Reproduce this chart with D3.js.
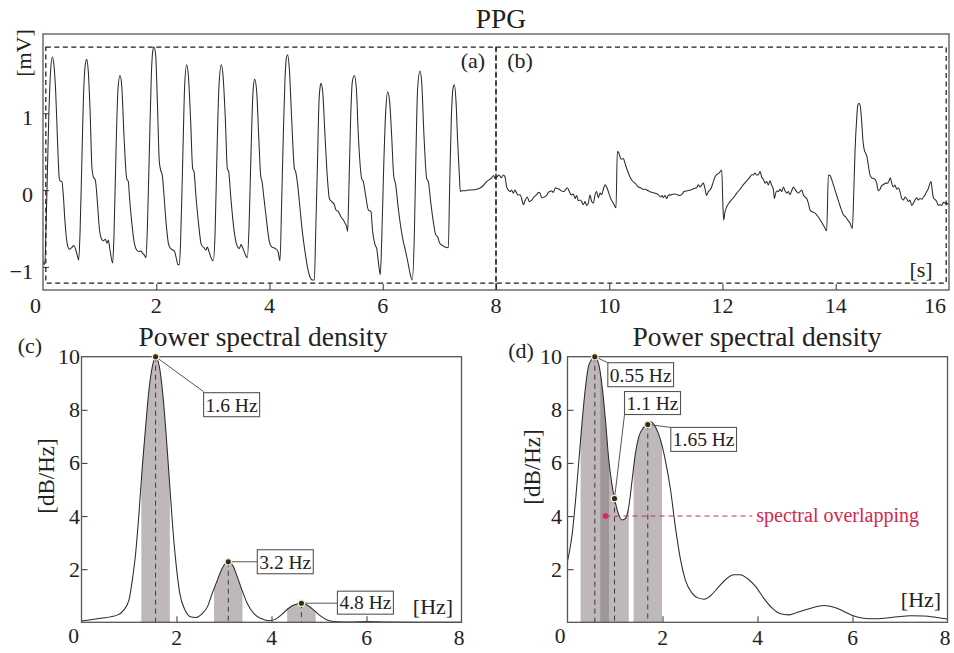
<!DOCTYPE html>
<html><head><meta charset="utf-8">
<script src="https://cdn.jsdelivr.net/npm/d3@7"></script>
<style>
body{margin:0;background:#fff;}
svg text{font-family:"Liberation Serif","DejaVu Serif",serif;fill:#222;}
</style></head><body>
<svg id="chart" width="954" height="653"></svg>
<script>
// ---------------- DATA ----------------
// PPG signal, first half (clean pulsatile), [time s, mV]
const ppgFirstHalf = [
[0.0,-0.93],[0.03,-0.97],[0.06,-0.3],[0.1,0.9],[0.13,1.5],[0.165,1.73],[0.194,1.62],[0.224,1.28],[0.253,0.71],[0.283,0.19],[0.30,0.12],[0.335,0.11],[0.359,-0.07],[0.388,-0.41],[0.43,-0.71],[0.465,-0.77],[0.506,-0.75],[0.547,-0.72],[0.571,-0.76],[0.595,-0.82],[0.63,-0.91],
[0.653,-0.58],[0.683,0.28],[0.712,1.15],[0.742,1.6],[0.771,1.70],
[0.80,1.54],[0.83,1.06],[0.865,0.28],[0.889,0.17],[0.924,0.13],[0.96,-0.15],[0.995,-0.50],[1.03,-0.63],[1.066,-0.66],[1.10,-0.64],[1.13,-0.69],[1.154,-0.65],[1.183,-0.78],[1.23,-0.95],
[1.254,-0.58],[1.289,0.50],[1.325,1.32],[1.36,1.49],
[1.39,1.36],[1.43,0.71],[1.478,0.15],[1.507,0.11],[1.525,-0.07],[1.566,-0.41],[1.613,-0.69],[1.654,-0.78],[1.695,-0.80],[1.731,-0.79],[1.754,-0.82],[1.784,-0.84],[1.819,-0.88],
[1.843,-0.50],[1.878,0.50],[1.913,1.49],[1.937,1.80],[1.96,1.86],
[1.99,1.75],[2.02,1.15],[2.054,0.37],[2.078,0.26],[2.107,0.19],[2.137,-0.07],[2.172,-0.41],[2.219,-0.71],[2.255,-0.76],[2.29,-0.78],[2.32,-0.79],[2.349,-0.87],[2.384,-0.97],[2.408,-0.97],
[2.43,-0.67],[2.467,0.37],[2.502,1.36],[2.537,1.63],
[2.567,1.49],[2.608,0.89],[2.643,0.28],[2.667,0.24],[2.70,-0.07],[2.749,-0.45],[2.796,-0.71],[2.843,-0.75],[2.878,-0.78],[2.902,-0.74],[2.932,-0.80],[2.973,-0.89],[3.008,-0.92],
[3.038,-0.58],[3.073,0.50],[3.108,1.36],[3.15,1.63],
[3.179,1.49],[3.22,0.93],[3.255,0.28],[3.279,0.24],[3.314,-0.07],[3.362,-0.45],[3.42,-0.71],[3.467,-0.76],[3.497,-0.71],[3.526,-0.75],[3.562,-0.82],[3.609,-0.88],
[3.638,-0.50],[3.674,0.50],[3.709,1.28],[3.738,1.44],
[3.774,1.28],[3.809,0.71],[3.844,0.19],[3.868,0.11],[3.903,-0.11],[3.95,-0.41],[3.997,-0.67],[4.04,-0.74],[4.10,-0.76],[4.15,-0.80],[4.185,-0.92],
[4.215,-0.15],[4.244,0.71],[4.274,1.45],[4.297,1.71],[4.321,1.76],
[4.35,1.58],[4.391,0.93],[4.44,0.28],[4.462,0.24],[4.497,0.07],[4.539,-0.24],[4.58,-0.54],[4.627,-0.80],[4.674,-1.02],[4.715,-1.13],[4.756,-1.17],[4.792,-1.17],
[4.815,-0.58],[4.845,0.28],[4.874,1.15],[4.898,1.36],[4.909,1.39],
[4.939,1.28],[4.98,0.71],[5.027,0.11],[5.057,-0.11],[5.098,-0.15],[5.145,-0.19],[5.174,-0.26],[5.216,-0.28],[5.263,-0.35],[5.304,-0.39],[5.333,-0.43],[5.363,-0.48],[5.38,-0.54],
[5.404,0.07],[5.433,0.93],[5.463,1.41],[5.498,1.49],
[5.534,1.32],[5.569,0.71],[5.628,0.15],[5.657,0.11],[5.698,-0.07],[5.746,-0.26],[5.793,-0.28],[5.816,-0.50],[5.863,-0.71],[5.893,-0.76],[5.922,-0.93],[5.957,-1.10],
[5.981,-0.67],[6.016,0.28],[6.052,1.02],[6.087,1.28],
[6.122,1.15],[6.157,0.71],[6.193,0.19],[6.228,0.07],[6.275,-0.24],[6.322,-0.50],[6.363,-0.67],[6.405,-0.80],[6.452,-0.97],[6.487,-1.10],[6.522,-1.17],
[6.558,-0.58],[6.587,0.50],[6.616,1.32],[6.658,1.55],
[6.687,1.41],[6.728,0.71],[6.776,0.15],[6.805,0.11],[6.846,-0.15],[6.893,-0.41],[6.934,-0.58],[6.97,-0.61],[7.005,-0.69],[7.052,-0.72],[7.099,-0.74],[7.158,-0.75],
[7.182,0.07],[7.211,0.93],[7.241,1.32],[7.264,1.37],
[7.294,1.15],[7.323,0.63],[7.353,0.19],[7.37,-0.02],[7.394,-0.01],[7.452,-0.01],[7.51,0.0],[7.57,0.0],[7.659,0.01],[7.747,0.04],[7.835,0.11],[7.923,0.16],[7.959,0.19],[7.982,0.15],[8.012,0.17]
];
// PPG signal, second half (motion artefacts), [time s, mV]
const ppgSecondHalf = [
[8.059,0.195],[8.088,0.16],[8.13,0.195],[8.159,0.17],[8.188,0.04],[8.218,0.0],[8.247,-0.02],[8.277,0.0],[8.306,-0.04],[8.335,0.0],[8.365,-0.04],[8.394,-0.065],[8.424,-0.06],[8.453,-0.11],[8.483,-0.19],[8.512,-0.14],[8.553,-0.09],[8.589,-0.15],[8.63,-0.13],[8.671,-0.09],[8.718,-0.06],[8.748,-0.03],[8.777,-0.04],[8.806,-0.10],[8.848,-0.09],[8.895,-0.07],[8.924,-0.03],[8.954,-0.02],[8.983,-0.01],[9.013,-0.03],[9.048,0.03],[9.083,0.02],[9.118,0.01],[9.154,-0.01],[9.189,-0.02],[9.224,0.0],[9.26,0.03],[9.295,-0.02],[9.33,-0.065],[9.366,-0.05],[9.395,-0.11],[9.425,-0.07],[9.454,-0.14],[9.483,-0.13],[9.513,-0.15],[9.542,-0.19],[9.572,-0.15],[9.601,-0.20],[9.631,-0.17],[9.66,-0.065],[9.69,-0.15],[9.719,-0.17],[9.748,-0.065],[9.778,-0.02],[9.807,-0.10],[9.837,-0.04],[9.866,-0.06],[9.896,0.01],[9.925,0.07],[9.954,0.04],[9.984,-0.02],[10.025,-0.11],[10.072,-0.17],[10.119,-0.23],
[10.143,0.50],[10.166,0.49],[10.19,0.43],[10.219,0.40],[10.249,0.41],[10.278,0.35],[10.308,0.28],[10.355,0.19],[10.396,0.13],[10.455,0.09],[10.514,0.04],[10.555,0.03],[10.59,0.01],[10.632,0.01],[10.69,-0.01],[10.749,-0.03],[10.808,-0.04],[10.867,-0.06],[10.908,-0.09],[10.932,-0.07],[10.955,-0.10],[10.985,-0.07],[11.014,-0.11],[11.043,-0.07],[11.102,-0.06],[11.161,-0.05],[11.203,-0.06],[11.238,-0.07],[11.279,-0.06],[11.32,-0.02],[11.379,-0.01],[11.438,0.0],[11.497,0.02],[11.544,0.03],[11.573,0.07],[11.603,0.04],[11.632,0.065],[11.662,0.09],[11.691,0.02],[11.72,-0.07],[11.75,-0.02],[11.779,0.0],[11.809,0.04],[11.838,0.11],[11.868,0.17],[11.897,0.2],[11.939,0.22],[11.986,0.26],
[12.009,-0.24],[12.021,-0.39],[12.045,-0.28],[12.074,-0.22],[12.133,-0.15],[12.192,-0.10],[12.251,-0.04],[12.31,0.01],[12.368,0.07],[12.427,0.12],[12.486,0.17],[12.516,0.20],[12.545,0.195],[12.574,0.22],[12.604,0.195],[12.633,0.20],[12.663,0.24],[12.692,0.17],[12.722,0.14],[12.751,0.09],[12.78,0.11],[12.81,0.065],[12.839,0.12],[12.869,0.06],[12.898,0.01],[12.916,-0.11],[12.939,-0.04],[12.963,-0.01],[12.986,-0.02],[13.016,0.01],[13.045,-0.02],[13.075,0.04],[13.104,-0.01],[13.134,-0.04],[13.163,-0.02],[13.192,-0.06],[13.222,-0.01],[13.251,0.04],[13.281,0.01],[13.31,-0.02],[13.34,-0.04],[13.369,-0.02],[13.399,0.0],[13.428,-0.065],[13.457,-0.09],[13.487,-0.11],[13.516,-0.17],[13.546,-0.26],[13.575,-0.28],[13.634,-0.30],[13.693,-0.35],[13.752,-0.42],[13.799,-0.48],[13.84,-0.53],
[13.87,0.195],[13.899,0.19],[13.94,0.11],[13.987,0.0],[14.034,-0.11],[14.082,-0.22],[14.134,-0.32],[14.176,-0.35],[14.211,-0.39],[14.252,-0.43],[14.293,-0.50],
[14.317,-0.065],[14.34,0.50],[14.37,0.93],[14.388,1.10],[14.411,1.13],[14.435,1.08],[14.458,0.89],[14.482,0.63],[14.505,0.52],[14.529,0.48],[14.552,0.43],[14.576,0.32],[14.606,0.195],[14.635,0.16],[14.664,0.15],[14.694,0.14],[14.723,0.09],[14.752,-0.01],[14.782,0.01],[14.812,0.06],[14.841,0.07],[14.882,0.09],[14.917,0.09],[14.941,0.12],[14.964,0.16],[14.988,0.09],[15.017,0.04],[15.047,0.065],[15.076,0.01],[15.106,0.03],[15.135,-0.02],[15.165,-0.11],[15.194,-0.13],[15.224,-0.09],[15.253,-0.11],[15.282,-0.15],[15.312,-0.13],[15.341,-0.20],[15.371,-0.17],[15.4,-0.13],[15.43,-0.10],[15.459,-0.13],[15.489,-0.11],[15.518,-0.12],[15.548,-0.09],[15.577,-0.065],[15.606,-0.02],[15.636,0.02],[15.665,0.09],[15.683,0.11],[15.706,-0.02],[15.73,-0.11],[15.753,-0.12],[15.783,-0.15],[15.812,-0.20],[15.842,-0.19],[15.871,-0.20],[15.9,-0.16],[15.93,-0.17],[15.959,-0.17],[15.989,-0.19]
];
const ppgTitle = "PPG";
const ppgXTicks = [0, 2, 4, 6, 8, 10, 12, 14, 16];
const ppgYTicks = [-1, 0, 1];
const ppgWindows = [[0.05, 8], [8, 15.95]];
const ppgWindowRange = [-1.21, 1.86];
const ppgWindowLabels = ["(a)", "(b)"];

// PSD of window (a): [Hz, dB/Hz]
const psdA = [
[0,0.05],[0.4,0.15],[0.75,0.27],[0.89,0.46],[1.0,0.84],[1.07,1.59],[1.14,2.6],[1.21,4.1],[1.28,5.86],[1.35,7.36],[1.42,8.74],[1.49,9.62],[1.56,10.0],[1.64,9.62],[1.71,8.62],[1.78,7.11],[1.85,5.35],[1.92,3.59],[1.99,2.21],[2.07,1.08],[2.18,0.46],[2.29,0.21],[2.41,0.18],[2.54,0.33],[2.65,0.58],[2.75,1.08],[2.86,1.59],[2.96,2.03],[3.09,2.28],[3.19,2.12],[3.28,1.71],[3.38,1.21],[3.49,0.71],[3.63,0.33],[3.77,0.15],[3.94,0.06],[4.08,0.11],[4.22,0.3],[4.36,0.53],[4.5,0.67],[4.63,0.72],[4.75,0.65],[4.89,0.46],[5.03,0.24],[5.17,0.09],[5.31,0.03],[5.66,0.01],[6.0,0.03],[6.4,0.01],[7.0,0.0],[8.0,0.0]
];
const peaksA = [1.56, 3.09, 4.63];
const peakValuesA = [10.0, 2.28, 0.72];
const peakLabelsA = ["1.6 Hz", "3.2 Hz", "4.8 Hz"];

// PSD of window (b): [Hz, dB/Hz]
const psdB = [
[0,2.3],[0.05,2.75],[0.1,3.35],[0.17,4.6],[0.24,6.1],[0.31,7.6],[0.38,8.87],[0.45,9.69],[0.575,10.0],[0.66,9.69],[0.73,8.87],[0.8,7.6],[0.87,6.1],[0.93,5.25],[0.99,4.66],[1.06,4.16],[1.15,3.85],[1.22,3.91],[1.29,4.35],[1.36,5.35],[1.43,6.36],[1.5,6.98],[1.6,7.33],[1.69,7.5],[1.75,7.55],[1.85,7.36],[1.96,6.86],[2.06,6.1],[2.17,4.98],[2.27,3.6],[2.38,2.35],[2.48,1.6],[2.62,1.1],[2.76,0.91],[2.88,0.87],[3.01,1.0],[3.19,1.35],[3.36,1.66],[3.5,1.79],[3.64,1.79],[3.78,1.66],[3.96,1.35],[4.13,0.91],[4.31,0.53],[4.48,0.32],[4.66,0.28],[4.83,0.37],[5.01,0.47],[5.19,0.57],[5.4,0.63],[5.61,0.57],[5.82,0.41],[6.03,0.24],[6.24,0.15],[6.45,0.13],[6.66,0.15],[6.94,0.21],[7.22,0.25],[7.5,0.24],[7.78,0.18],[8.0,0.12]
];
const peaksB = [0.575, 0.99, 1.69];
const peakValuesB = [10.0, 4.66, 7.45];
const peakLabelsB = ["0.55 Hz", "1.1 Hz", "1.65 Hz"];
const bandHalfWidth = 0.3;
const overlapPoint = [0.8, 4.0];
const overlapLineEnd = 3.89;
const overlapLabel = "spectral overlapping";

const psdTitle = "Power spectral density";
const psdXTicks = [0, 2, 4, 6, 8];
const psdYTicks = [0, 2, 4, 6, 8, 10];

// ---------------- DRAWING ----------------
const svg = d3.select("#chart");
const FONT = '"Liberation Serif","DejaVu Serif",serif';
const FRAME = "#555", TICK = "#444", LINE = "#2a2a2a";
const BAND_FILL = "rgb(132,121,127)", BAND_OP = 0.53;
const RED = "#d7264f";

function text(g, str, x, y, opts = {}) {
  const t = g.append("text").attr("x", x).attr("y", y).text(str)
    .attr("font-family", FONT)
    .attr("font-size", opts.size || 22)
    .attr("text-anchor", opts.anchor || "middle");
  if (opts.fill) t.style("fill", opts.fill);
  return t;
}
function vtext(g, str, cx, cy, size) {
  g.append("text").attr("transform", `translate(${cx},${cy}) rotate(-90)`).attr("font-family", FONT)
    .attr("text-anchor", "middle").attr("dy", "0.35em").attr("font-size", size).text(str);
}
function frame(g, x, y) {
  g.append("rect").attr("x", x.range()[0]).attr("y", y.range()[1])
    .attr("width", x.range()[1] - x.range()[0]).attr("height", y.range()[0] - y.range()[1])
    .attr("fill", "none").attr("stroke", FRAME).attr("stroke-width", 1.3);
}
function ticks(g, x, y, xt, yt) {
  const bx = g.append("g").attr("transform", `translate(0,${y.range()[0]})`)
    .call(d3.axisBottom(x).tickValues(xt).tickSize(-6).tickSizeOuter(0).tickFormat(""));
  const by = g.append("g").attr("transform", `translate(${x.range()[0]},0)`)
    .call(d3.axisLeft(y).tickValues(yt).tickSize(-6).tickSizeOuter(0).tickFormat(""));
  [bx, by].forEach(a => { a.select(".domain").remove(); a.selectAll("line").attr("stroke", TICK).attr("stroke-width", 1.1); });
}

// ---- Top panel: PPG ----
const tX = d3.scaleLinear().domain([0, 16]).range([43, 949]);
const tY = d3.scaleLinear().domain([-1.3, 2.03]).range([290, 34]);
const gT = svg.append("g");
ticks(gT, tX, tY, ppgXTicks.slice(1, -1), ppgYTicks);
const ppgAll = ppgFirstHalf.concat(ppgSecondHalf);
gT.append("path").datum(ppgAll)
  .attr("d", d3.line().x(d => tX(d[0])).y(d => tY(d[1])).curve(d3.curveMonotoneX))
  .attr("fill", "none").attr("stroke", LINE).attr("stroke-width", 1.05);
ppgWindows.forEach(w => {
  gT.append("rect").attr("x", tX(w[0])).attr("y", tY(ppgWindowRange[1]))
    .attr("width", tX(w[1]) - tX(w[0])).attr("height", tY(ppgWindowRange[0]) - tY(ppgWindowRange[1]))
    .attr("fill", "none").attr("stroke", "#1d1d1d").attr("stroke-width", 1.25).attr("stroke-dasharray", "5,3.5");
});
gT.append("line").attr("x1", tX(ppgWindows[1][0])).attr("x2", tX(ppgWindows[1][0]))
  .attr("y1", tY(ppgWindowRange[0])).attr("y2", tY.range()[0])
  .attr("stroke", "#1d1d1d").attr("stroke-width", 1.25);
frame(gT, tX, tY);
text(gT, ppgWindowLabels[0], tX(ppgWindows[0][1]) - 23, 68);
text(gT, ppgWindowLabels[1], tX(ppgWindows[1][0]) + 24, 68);
ppgXTicks.forEach((v, i) => {
  let x = tX(v), anchor = "middle";
  if (i === 0) { x -= 2; anchor = "end"; }
  if (i === ppgXTicks.length - 1) { x -= 3; anchor = "end"; }
  text(gT, String(v), x, 313, { anchor });
});
ppgYTicks.forEach(v => text(gT, v < 0 ? "\u2212" + Math.abs(v) : String(v), 33, tY(v) + 12, { anchor: "end" }));
text(gT, ppgTitle, 501, 28, { size: 27.5 });
vtext(gT, "[mV]", 23, 53, 22);
text(gT, "[s]", 921, 277);

// ---- PSD panels ----
function psdPanel(cfg) {
  const g = svg.append("g");
  const x = d3.scaleLinear().domain([0, 8]).range(cfg.xr);
  const y = d3.scaleLinear().domain([0, 10]).range([622.3, 356.7]);
  const area = d3.area().x(d => x(d[0])).y0(y(0)).y1(d => y(d[1])).curve(d3.curveMonotoneX);
  cfg.peaks.forEach((f, i) => {
    const id = cfg.id + "clip" + i;
    g.append("clipPath").attr("id", id).append("rect")
      .attr("x", x(f - bandHalfWidth)).attr("width", x(f + bandHalfWidth) - x(f - bandHalfWidth))
      .attr("y", y(10.5)).attr("height", y(0) - y(10.5));
    g.append("path").datum(cfg.data).attr("d", area).attr("clip-path", `url(#${id})`)
      .attr("fill", BAND_FILL).attr("fill-opacity", BAND_OP);
  });
  cfg.peaks.forEach((f, i) => {
    g.append("line").attr("x1", x(f)).attr("x2", x(f)).attr("y1", y(cfg.peakVals[i])).attr("y2", y(0))
      .attr("stroke", "#3a3a3a").attr("stroke-width", 1).attr("stroke-dasharray", "5,4");
  });
  g.append("path").datum(cfg.data)
    .attr("d", d3.line().x(d => x(d[0])).y(d => y(d[1])).curve(d3.curveMonotoneX))
    .attr("fill", "none").attr("stroke", LINE).attr("stroke-width", 1.05);
  ticks(g, x, y, psdXTicks.slice(1, -1), psdYTicks.slice(1, -1));
  frame(g, x, y);
  if (cfg.extra) cfg.extra(g, x, y);
  cfg.peaks.forEach((f, i) => {
    const L = cfg.layout[i];
    const px = x(f), py = y(cfg.peakVals[i]);
    g.append("line").attr("x1", px).attr("y1", py).attr("x2", px + L.lx).attr("y2", py + L.ly)
      .attr("stroke", "#555").attr("stroke-width", 1);
    const bg = g.append("g");
    const rect = bg.append("rect").attr("x", px + L.bx).attr("y", py + L.by).attr("height", L.h)
      .attr("fill", "#fff").attr("stroke", "#555").attr("stroke-width", 1.1);
    const t = text(bg, cfg.labels[i], px + L.bx + 2, py + L.by + L.h - 5, { size: 19.5, anchor: "start" });
    rect.attr("width", t.node().getComputedTextLength() + 4);
    g.append("circle").attr("cx", px).attr("cy", py).attr("r", 3.2)
      .attr("fill", "#2b2b2b").attr("stroke", "#f4efc0").attr("stroke-width", 1.3);
  });
  psdXTicks.slice(1).forEach((v, i, a) => {
    if (i === a.length - 1) text(g, String(v), x(v) + 3, 645, { anchor: "end", size: 21.5 });
    else text(g, String(v), x(v), 645, { size: 21.5 });
  });
  psdYTicks.slice(1).forEach(v => text(g, String(v), cfg.ylabX, y(v) + 7.5, { anchor: "end" }));
  text(g, "0", cfg.zeroX, 643, { size: 21.5 });
  text(g, psdTitle, cfg.titleX, 346, { size: 27.5 });
  vtext(g, "[dB/Hz]", cfg.yTitleX, cfg.yTitleY, 23);
  text(g, "[Hz]", cfg.hzX, cfg.hzY);
  text(g, cfg.tag, cfg.tagX, cfg.tagY);
}

psdPanel({
  id: "c", xr: [81.5, 461.5], data: psdA, peaks: peaksA, peakVals: peakValuesA, labels: peakLabelsA,
  layout: [{lx: 48, ly: 35, bx: 48, by: 36, h: 24}, {lx: 29, ly: 0, bx: 29, by: -12, h: 24}, {lx: 36, ly: 0, bx: 36, by: -12, h: 23}],
  ylabX: 80, zeroX: 73.5, titleX: 263, yTitleX: 46, yTitleY: 476, hzX: 433, hzY: 614, tag: "(c)", tagX: 30, tagY: 353
});
psdPanel({
  id: "d", xr: [567.5, 947.5], data: psdB, peaks: peaksB, peakVals: peakValuesB, labels: peakLabelsB,
  layout: [{lx: 13, ly: 6, bx: 13, by: 6, h: 24}, {lx: 10, ly: -84, bx: 10, by: -107, h: 23}, {lx: 23, ly: 3, bx: 23, by: 3, h: 24}],
  ylabX: 562, zeroX: 560, titleX: 757, yTitleX: 532, yTitleY: 467, hzX: 921, hzY: 607, tag: "(d)", tagX: 521, tagY: 358,
  extra: (g, x, y) => {
    g.append("line").attr("x1", x(overlapPoint[0])).attr("x2", x(overlapLineEnd))
      .attr("y1", y(overlapPoint[1])).attr("y2", y(overlapPoint[1]))
      .attr("stroke", RED).attr("stroke-width", 1).attr("stroke-dasharray", "5,4");
    g.append("circle").attr("cx", x(overlapPoint[0])).attr("cy", y(overlapPoint[1])).attr("r", 2.8).attr("fill", RED);
    text(g, overlapLabel, x(overlapLineEnd) + 4, y(overlapPoint[1]) + 6, { size: 20, anchor: "start", fill: RED });
  }
});
</script>
</body></html>
